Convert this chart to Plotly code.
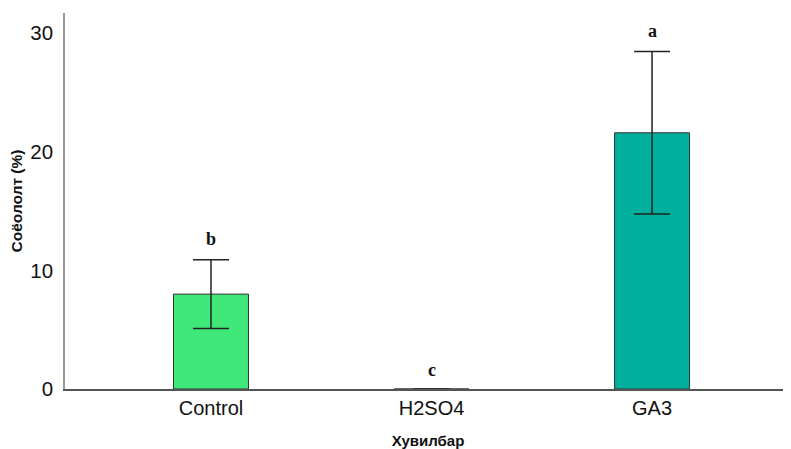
import plotly.graph_objects as go

categories = ["Control", "H2SO4", "GA3"]
means = [8.0, 0.0, 21.6]
errors = [2.9, 0.0, 6.85]
letters = ["b", "c", "a"]
bar_colors = ["#40E87A", "#3FC89A", "#00B09C"]
y_ticks = [0, 10, 20, 30]

fig = go.Figure()
fig.add_trace(go.Bar(
    x=categories, y=means,
    width=0.34,
    marker=dict(color=bar_colors, line=dict(color="#333333", width=1)),
    error_y=dict(type="data", array=errors, visible=True, color="#222222", thickness=1.5, width=18),
    showlegend=False,
))

for c, m, e, l in zip(categories, means, errors, letters):
    fig.add_annotation(
        x=c, y=m + e, text=f"<b>{l}</b>", showarrow=False,
        yanchor="bottom", yshift=9 if e > 0 else 7,
        font=dict(family="Liberation Serif", size=18, color="#111111"),
    )

fig.update_layout(
    width=783, height=441,
    margin=dict(l=57, r=0, t=5, b=60),
    paper_bgcolor="white", plot_bgcolor="white",
    font=dict(family="Liberation Sans", color="#111111"),
    xaxis=dict(
        range=[-0.662, 2.630], showline=True, linecolor="#555555", linewidth=1.5,
        ticks="", tickfont=dict(size=20), showgrid=False, automargin=False,
        title=dict(text="<b>Хувилбар</b>", font=dict(size=15), standoff=18),
    ),
    yaxis=dict(
        range=[0, 31.7], tickvals=y_ticks, showline=True, linecolor="#999999", linewidth=1.5,
        ticks="", tickfont=dict(size=20.5), showgrid=False, zeroline=False, automargin=False,
        ticklabelstandoff=6,
        title=dict(text="<b>Соёололт (%)</b>", font=dict(size=15.5), standoff=14),
    ),
)
fig.write_html("out.html")
